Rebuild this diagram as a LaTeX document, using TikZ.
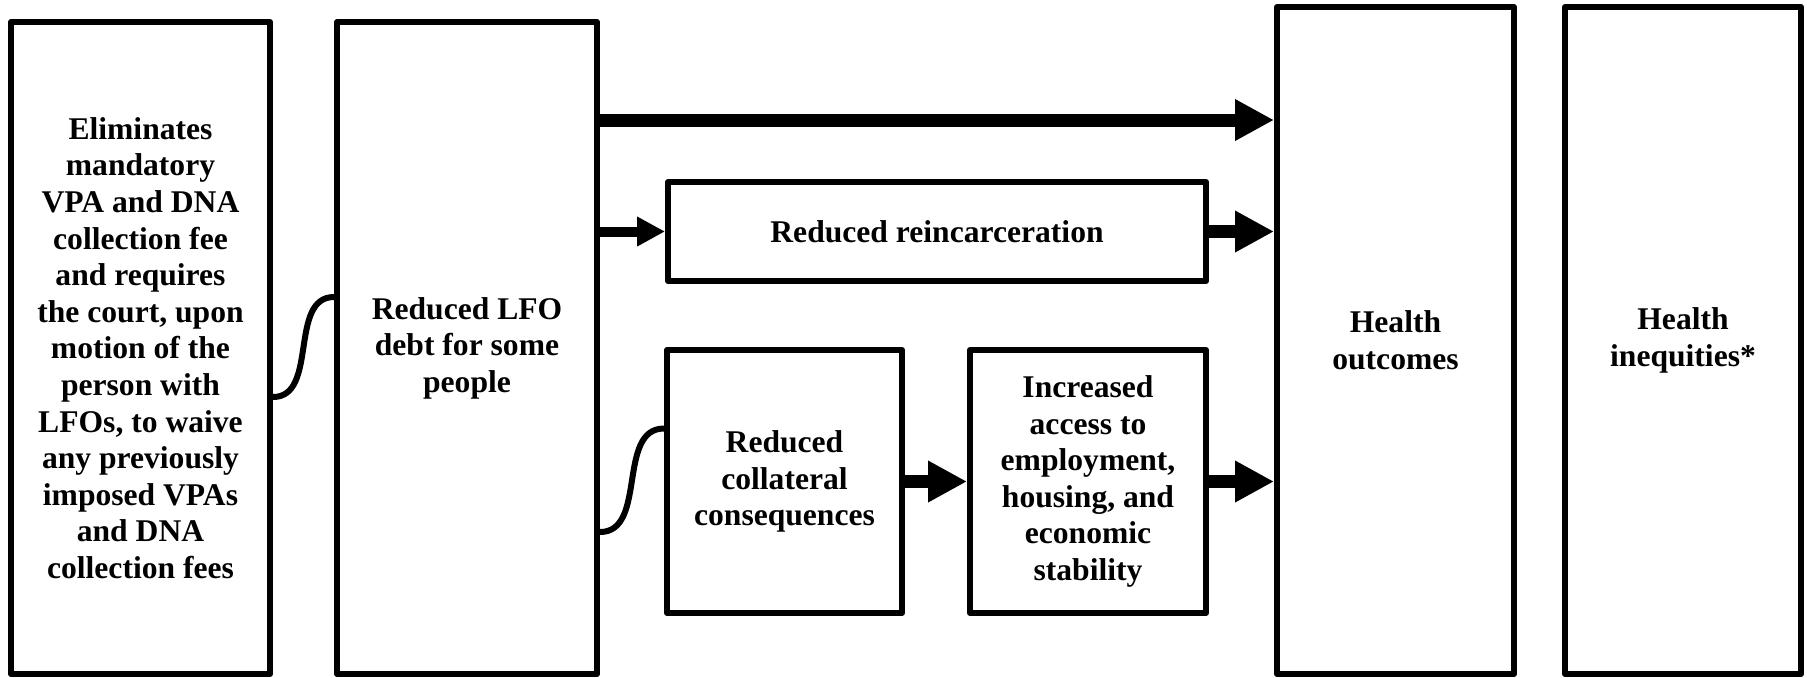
\documentclass[tikz,border=0pt]{standalone}
\usepackage{fontspec}
\setmainfont{Liberation Serif}
\usetikzlibrary{arrows.meta}

\begin{document}
\begin{tikzpicture}[-,x=0.5pt,y=-0.5pt,box node/.style={rectangle,draw,line width=3pt,line join=round,inner sep=0pt,align=center,font=\fontsize{15.8}{18.3}\selectfont\bfseries},big arrow/.style={line width=6.5pt,-{Triangle[length=19.5pt,width=19.5pt]}},small arrow/.style={line width=5pt,-{Triangle[length=14pt,width=14pt]}},link/.style={line width=3pt}]
        \useasboundingbox (0,0) rectangle (1807,677);
        \node [box node, minimum width=129.5pt, minimum height=326pt] (1) at (140.5,348) {Eliminates\\mandatory\\VPA and DNA\\collection fee\\and requires\\the court, upon\\motion of the\\person with\\LFOs, to waive\\any previously\\imposed VPAs\\and DNA\\collection fees};
        \node [box node, minimum width=130pt, minimum height=326pt] (2) at (467,348) {Reduced LFO\\debt for some\\people};
        \node [box node, minimum width=269pt, minimum height=49.5pt] (3) at (937,231.5) {Reduced reincarceration};
        \node [box node, minimum width=117.5pt, minimum height=131.5pt] (4) at (784.5,481.5) {Reduced\\collateral\\consequences};
        \node [box node, minimum width=118pt, minimum height=131.5pt] (5) at (1088,481.5) {Increased\\access to\\employment,\\housing, and\\economic\\stability};
        \node [box node, minimum width=118.5pt, minimum height=333.5pt] (6) at (1395.5,340.5) {Health\\outcomes};
        \node [box node, minimum width=118pt, minimum height=333.5pt] (7) at (1683,340.5) {Health\\inequities*};
        \coordinate (t) at (0,120);
        \path[link]
        ([yshift=-24.5pt]1.east) edge [out=0, in=180] ([yshift=25.5pt]2.west)
        ([yshift=-92pt]2.east) edge [out=0, in=180] ([yshift=26.5pt]4.west);
        \path[small arrow]
        (2.east |- 3) edge (3);
        \path[big arrow]
        (2.east |- t) edge (6.west |- t)
        (3) edge (6.west |- 3)
        (4) edge (5)
        (5) edge (6.west |- 5);
    \end{tikzpicture}
\end{document}
